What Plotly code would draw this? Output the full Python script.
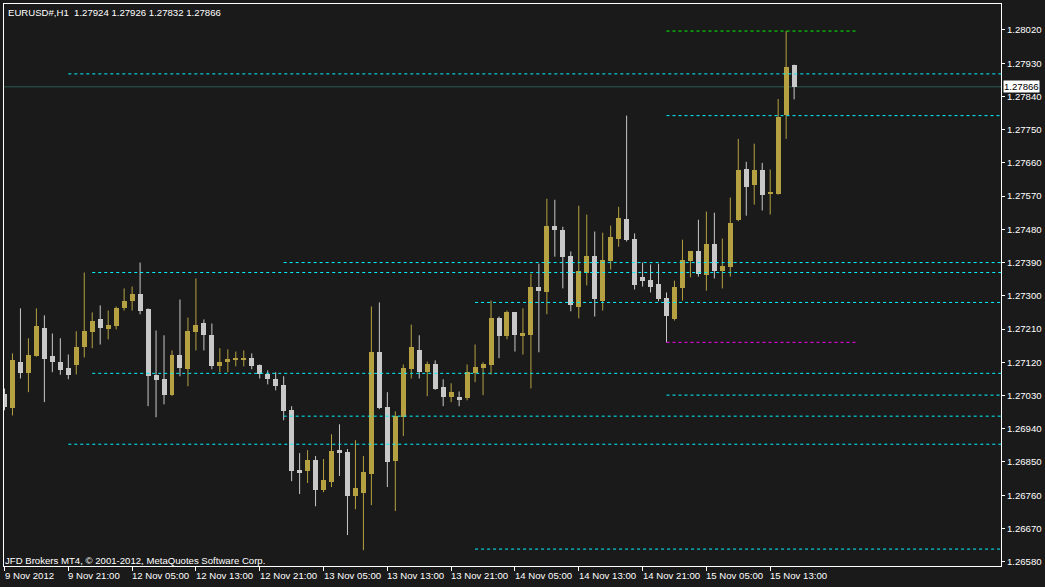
import plotly.graph_objects as go

# ---------------- data (EURUSD#, H1) ----------------
bar_index = list(range(100))

opens = [1.27033, 1.26996, 1.27122, 1.27090, 1.27136, 1.27214, 1.27136, 1.27122, 1.27104, 1.27112,
         1.27160, 1.27201, 1.27236, 1.27209, 1.27217, 1.27266, 1.27287, 1.27304, 1.27263, 1.27085,
         1.27074, 1.27031, 1.27139, 1.27101, 1.27201, 1.27225, 1.27195, 1.27109, 1.27120, 1.27125,
         1.27128, 1.27131, 1.27112, 1.27087, 1.27076, 1.27058, 1.26990, 1.26828, 1.26825, 1.26855,
         1.26774, 1.26795, 1.26882, 1.26876, 1.26757, 1.26766, 1.26817, 1.27149, 1.26998, 1.26852,
         1.26971, 1.27101, 1.27152, 1.27093, 1.27114, 1.27052, 1.27025, 1.27025, 1.27022, 1.27090,
         1.27104, 1.27112, 1.27241, 1.27190, 1.27255, 1.27190, 1.27195, 1.27325, 1.27309, 1.27490,
         1.27477, 1.27409, 1.27271, 1.27363, 1.27409, 1.27285, 1.27393, 1.27455, 1.27509, 1.27455,
         1.27352, 1.27344, 1.27331, 1.27293, 1.27236, 1.27320, 1.27393, 1.27420, 1.27355, 1.27441,
         1.27368, 1.27379, 1.27504, 1.27644, 1.27601, 1.27642, 1.27577, 1.27577, 1.27790, 1.27924]

highs = [1.27049, 1.27144, 1.27266, 1.27185, 1.27266, 1.27247, 1.27198, 1.27185, 1.27141, 1.27204,
         1.27363, 1.27255, 1.27274, 1.27260, 1.27271, 1.27320, 1.27325, 1.27390, 1.27266, 1.27206,
         1.27193, 1.27152, 1.27290, 1.27241, 1.27347, 1.27236, 1.27225, 1.27158, 1.27155, 1.27149,
         1.27152, 1.27144, 1.27114, 1.27098, 1.27093, 1.27082, 1.27001, 1.26874, 1.26882, 1.26866,
         1.26858, 1.26925, 1.26952, 1.26885, 1.26909, 1.26866, 1.27271, 1.27282, 1.27039, 1.26987,
         1.27114, 1.27222, 1.27193, 1.27122, 1.27125, 1.27074, 1.27063, 1.27041, 1.27114, 1.27168,
         1.27120, 1.27287, 1.27244, 1.27260, 1.27256, 1.27266, 1.27360, 1.27387, 1.27563, 1.27560,
         1.27487, 1.27420, 1.27544, 1.27520, 1.27474, 1.27471, 1.27490, 1.27541, 1.27788, 1.27469,
         1.27390, 1.27385, 1.27387, 1.27309, 1.27341, 1.27452, 1.27420, 1.27506, 1.27528, 1.27525,
         1.27455, 1.27566, 1.27725, 1.27663, 1.27712, 1.27660, 1.27642, 1.27833, 1.28017, 1.27926]

lows = [1.26990, 1.26976, 1.27076, 1.27039, 1.27135, 1.27012, 1.27093, 1.27086, 1.27074, 1.27087,
        1.27133, 1.27158, 1.27168, 1.27182, 1.27209, 1.27260, 1.27260, 1.27250, 1.27001, 1.26971,
        1.27006, 1.27029, 1.27082, 1.27055, 1.27152, 1.27152, 1.27101, 1.27093, 1.27093, 1.27109,
        1.27109, 1.27101, 1.27076, 1.27060, 1.27044, 1.26963, 1.26798, 1.26763, 1.26793, 1.26730,
        1.26768, 1.26782, 1.26812, 1.26652, 1.26722, 1.26611, 1.26733, 1.26993, 1.26782, 1.26717,
        1.26920, 1.27076, 1.27076, 1.27028, 1.27045, 1.27001, 1.27012, 1.27001, 1.27017, 1.27066,
        1.27031, 1.27087, 1.27131, 1.27182, 1.27149, 1.27141, 1.27049, 1.27147, 1.27250, 1.27406,
        1.27320, 1.27258, 1.27239, 1.27328, 1.27244, 1.27260, 1.27371, 1.27433, 1.27447, 1.27317,
        1.27325, 1.27309, 1.27285, 1.27174, 1.27233, 1.27287, 1.27350, 1.27352, 1.27314, 1.27347,
        1.27320, 1.27352, 1.27502, 1.27517, 1.27547, 1.27531, 1.27520, 1.27574, 1.27725, 1.27832]

closes = [1.26999, 1.27125, 1.27090, 1.27139, 1.27217, 1.27128, 1.27120, 1.27098, 1.27086, 1.27160,
          1.27204, 1.27233, 1.27212, 1.27222, 1.27268, 1.27287, 1.27304, 1.27260, 1.27082, 1.27071,
          1.27031, 1.27141, 1.27104, 1.27204, 1.27222, 1.27193, 1.27109, 1.27122, 1.27128, 1.27131,
          1.27131, 1.27109, 1.27087, 1.27074, 1.27055, 1.26987, 1.26825, 1.26820, 1.26855, 1.26774,
          1.26801, 1.26879, 1.26874, 1.26757, 1.26779, 1.26822, 1.27147, 1.26995, 1.26849, 1.26974,
          1.27104, 1.27160, 1.27093, 1.27114, 1.27047, 1.27025, 1.27039, 1.27020, 1.27093, 1.27106,
          1.27114, 1.27241, 1.27190, 1.27255, 1.27193, 1.27198, 1.27323, 1.27312, 1.27490, 1.27477,
          1.27406, 1.27274, 1.27366, 1.27409, 1.27290, 1.27396, 1.27458, 1.27512, 1.27452, 1.27328,
          1.27341, 1.27323, 1.27290, 1.27244, 1.27323, 1.27398, 1.27420, 1.27358, 1.27441, 1.27368,
          1.27382, 1.27498, 1.27642, 1.27596, 1.27642, 1.27574, 1.27579, 1.27785, 1.27920, 1.27866]

symbol = "EURUSD#,H1"
bid_price = 1.27866

time_tick_pos = [0, 8, 16, 24, 32, 40, 48, 56, 64, 72, 80, 88, 96]
time_tick_labels = ["9 Nov 2012", "9 Nov 21:00", "12 Nov 05:00", "12 Nov 13:00", "12 Nov 21:00",
                    "13 Nov 05:00", "13 Nov 13:00", "13 Nov 21:00", "14 Nov 05:00", "14 Nov 13:00",
                    "14 Nov 21:00", "15 Nov 05:00", "15 Nov 13:00"]

price_ticks = [1.26580, 1.26670, 1.26760, 1.26850, 1.26940, 1.27030, 1.27120, 1.27210, 1.27300,
               1.27390, 1.27480, 1.27570, 1.27660, 1.27750, 1.27840, 1.27930, 1.28020]

level_prices = [1.28017, 1.27901, 1.27788, 1.27390, 1.27363, 1.27282, 1.27174,
                1.27090, 1.27031, 1.26974, 1.26898, 1.26614]
level_start = [83, 8, 83, 35, 11, 59, 83, 11, 83, 35, 8, 59]
level_end = [106.7, None, None, None, None, None, 106.7, None, None, None, None, None]
level_kind = ["high", "pivot", "pivot", "pivot", "pivot", "pivot", "low",
              "pivot", "pivot", "pivot", "pivot", "pivot"]

footer_text = "JFD Brokers MT4, \u00a9 2001-2012, MetaQuotes Software Corp."

# ---------------- styling ----------------
BG = "#1A1A1A"
BULL = "#B5A142"
BEAR = "#C8C8C8"
CYAN = "#00F4FF"
LEVEL_COLORS = {"high": "#00FF00", "low": "#FF00FF", "pivot": CYAN}
BID_COLOR = "#2E5A52"
FONT = "Liberation Sans"
FS = 9.6

X_MIN, X_MAX = -0.0625, 124.9375
Y_MIN, Y_MAX = 1.265682, 1.280903

fig = go.Figure()

# wicks
for is_bull, color in ((True, BULL), (False, BEAR)):
    wx, wy = [], []
    for k, o, h, l, c in zip(bar_index, opens, highs, lows, closes):
        if (c >= o) == is_bull:
            wx += [k, k, None]
            wy += [l, h, None]
    fig.add_trace(go.Scatter(x=wx, y=wy, mode="lines",
                             line=dict(color=color, width=1),
                             hoverinfo="skip", showlegend=False))

# bodies
min_body = 0.00003
body_base = [min(o, c) for o, c in zip(opens, closes)]
body_h = [max(abs(c - o), min_body) for o, c in zip(opens, closes)]
body_col = [BULL if c >= o else BEAR for o, c in zip(opens, closes)]
fig.add_trace(go.Bar(x=bar_index, y=body_h, base=body_base, width=0.625,
                     marker=dict(color=body_col, line=dict(width=0)),
                     hoverinfo="skip", showlegend=False))

# horizontal levels
shapes = []
for p, s, e, kind in zip(level_prices, level_start, level_end, level_kind):
    shapes.append(dict(type="line", xref="x", yref="y",
                       x0=s, x1=(e if e is not None else X_MAX), y0=p, y1=p,
                       line=dict(color=LEVEL_COLORS[kind], width=1, dash="3px,3px"),
                       layer="above"))
# bid line
shapes.append(dict(type="line", xref="paper", yref="y", x0=0, x1=1,
                   y0=bid_price, y1=bid_price,
                   line=dict(color=BID_COLOR, width=1), layer="below"))

annotations = []
# time labels (left-aligned at tick, MT4 style)
for pos, lab in zip(time_tick_pos, time_tick_labels):
    annotations.append(dict(x=pos, xref="x", y=0, yref="paper", text=lab,
                            showarrow=False, xanchor="left", yanchor="top",
                            xshift=-1, yshift=-3, borderpad=0,
                            font=dict(family=FONT, size=FS, color="white")))
# header
header = f"{symbol}  {opens[-1]:.5f} {highs[-1]:.5f} {lows[-1]:.5f} {closes[-1]:.5f}"
annotations.append(dict(x=0, xref="paper", y=1, yref="paper", text=header,
                        showarrow=False, xanchor="left", yanchor="top",
                        xshift=3, yshift=-2, borderpad=0,
                        font=dict(family=FONT, size=FS, color="white")))
# footer
annotations.append(dict(x=0, xref="paper", y=0, yref="paper", text=footer_text,
                        showarrow=False, xanchor="left", yanchor="bottom",
                        xshift=0, yshift=-1, borderpad=0,
                        font=dict(family=FONT, size=FS, color="white")))
# bid price box
annotations.append(dict(x=1, xref="paper", y=bid_price, yref="y",
                        text=f"{bid_price:.5f}", showarrow=False,
                        xanchor="left", yanchor="middle", xshift=2,
                        bgcolor="white", borderpad=0,
                        font=dict(family=FONT, size=FS, color="black")))

fig.update_layout(
    width=1045, height=587,
    margin=dict(l=3, r=42, t=3, b=21, pad=0),
    paper_bgcolor=BG, plot_bgcolor=BG,
    showlegend=False, bargap=0, hovermode=False,
    shapes=shapes, annotations=annotations,
    font=dict(family=FONT, size=FS, color="white"),
)
fig.update_xaxes(range=[X_MIN, X_MAX], showgrid=False, zeroline=False,
                 showline=True, mirror=True, linecolor="white", linewidth=1,
                 ticks="outside", ticklen=4, tickcolor="white", tickwidth=1,
                 tickvals=time_tick_pos, showticklabels=False, fixedrange=True)
fig.update_yaxes(side="right", range=[Y_MIN, Y_MAX], showgrid=False, zeroline=False,
                 showline=True, mirror=True, linecolor="white", linewidth=1,
                 ticks="outside", ticklen=3, tickcolor="white", tickwidth=1,
                 tickvals=price_ticks, tickformat=".5f",
                 tickfont=dict(family=FONT, size=FS, color="white"), fixedrange=True)

fig.write_html("out.html",
               config={"displayModeBar": False},
               post_script="document.body.style.margin='0';document.body.style.background='%s';" % BG)
